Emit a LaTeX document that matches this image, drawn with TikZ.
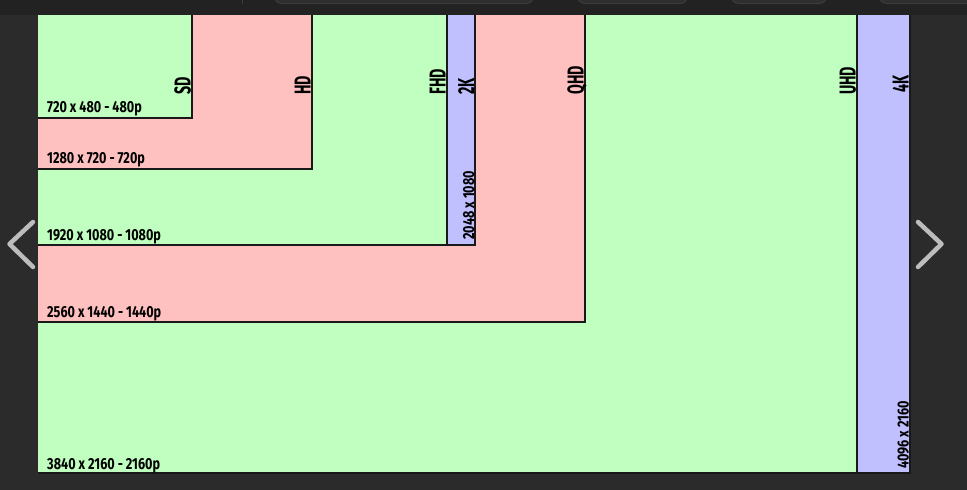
\documentclass[tikz,border=0pt]{standalone}
\usepackage{fontspec}
\usepackage{graphicx}
\setmainfont{Fira Sans}

\definecolor{resgreen}{HTML}{C0FFC0}
\definecolor{respink}{HTML}{FFC0C0}
\definecolor{resblue}{HTML}{C0C0FF}
\definecolor{pagebg}{HTML}{2B2B2B}
\definecolor{barbg}{HTML}{222222}
\definecolor{tabbg}{HTML}{2F2F2F}
\definecolor{tabline}{HTML}{3C3C3C}
\definecolor{chevgray}{HTML}{BDBDBD}

\newcommand{\squeezesize}[1]{\scalebox{0.79}[1]{#1}}
\newcommand{\squeezename}[1]{\scalebox{0.62}[1]{#1}}

\begin{document}
\begin{tikzpicture}[x=1pt,y=-1pt,
  edge/.style={line width=1.5pt,draw=black!90,line join=miter},
  sizetext/.style={anchor=base west,inner sep=0pt,font=\fontsize{16}{16}\selectfont\bfseries},
  sidetext/.style={sizetext,rotate=90},
  nametext/.style={anchor=base west,inner sep=0pt,rotate=90,font=\fontsize{23}{23}\selectfont\bfseries},
  chevron/.style={draw=chevgray,line width=4.5pt,line cap=round,line join=round},
  tab/.style={fill=tabbg,draw=tabline,line width=1pt,rounded corners=8pt}]
\useasboundingbox (0,0) rectangle (967,490);
\fill[pagebg] (0,0) rectangle (967,490);

% nested frames, largest first
\fill[resblue] (38,5) rectangle (910,473);
\draw[edge] (910,5) |- (38,473);
\fill[resgreen] (38,5) rectangle (857,473);
\draw[edge] (857,5) |- (38,473);
\fill[respink] (38,5) rectangle (585,322);
\draw[edge] (585,5) |- (38,322);
\fill[resblue] (38,5) rectangle (475,245);
\draw[edge] (475,5) |- (38,245);
\fill[resgreen] (38,5) rectangle (447,245);
\draw[edge] (447,5) |- (38,245);
\fill[respink] (38,5) rectangle (312,169);
\draw[edge] (312,5) |- (38,169);
\fill[resgreen] (38,5) rectangle (192,118);
\draw[edge] (192,5) |- (38,118);

% names
\node[nametext] (sd) at (190.5,95) {\squeezename{SD}};
\node[nametext] (hd) at (310.5,95) {\squeezename{HD}};
\node[nametext] (fhd) at (445.5,95) {\squeezename{FHD}};
\node[nametext] (twok) at (474,95) {\squeezename{2K}};
\node[nametext] (qhd) at (583.5,95) {\squeezename{QHD}};
\node[nametext] (uhd) at (855.5,95) {\squeezename{UHD}};
\node[nametext] (fourk) at (908.5,93) {\squeezename{4K}};

% sizes
\node[sizetext] (sdsize) at (47,112) {\squeezesize{720 x 480 - 480p}};
\node[sizetext] (hdsize) at (47,163) {\squeezesize{1280 x 720 - 720p}};
\node[sizetext] (fhdsize) at (47,240) {\squeezesize{1920 x 1080 - 1080p}};
\node[sizetext] (qhdsize) at (47,317) {\squeezesize{2560 x 1440 - 1440p}};
\node[sizetext] (uhdsize) at (47,469) {\squeezesize{3840 x 2160 - 2160p}};
\node[sidetext] (twoksize) at (474,240) {\squeezesize{2048 x 1080}};
\node[sidetext] (fourksize) at (908.5,469) {\squeezesize{4096 x 2160}};

% top bar
\fill[barbg] (0,0) rectangle (967,15);
\draw[tabline] (242,0) -- (242,4);
\draw[tab] (274,-12) rectangle (534,3.5);
\draw[tab] (577,-12) rectangle (688,3.5);
\draw[tab] (731,-12) rectangle (827,3.5);
\draw[tab] (879,-12) rectangle (990,3.5);

% arrows
\draw[chevron] (33,222) -- (9.5,244) -- (33,267);
\draw[chevron] (918,222) -- (941.5,244) -- (918,267);
\end{tikzpicture}
\end{document}
